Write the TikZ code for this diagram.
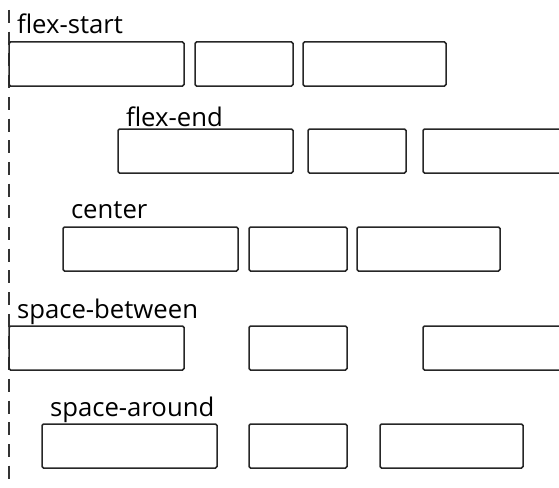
\documentclass[tikz,border=0pt]{standalone}
\usepackage{fontspec}
\setmainfont{Open Sans}
\begin{document}
\begin{tikzpicture}[x=1pt,y=-1pt,
  fbox/.style={draw=black!85, line width=1.5pt, rounded corners=1.5pt, rectangle,
    inner sep=0pt, outer sep=0pt, minimum height=44pt, anchor=north west},
  big/.style={fbox, minimum width=175pt},
  small/.style={fbox, minimum width=98pt},
  mid/.style={fbox, minimum width=143pt},
  lbl/.style={anchor=base west, inner sep=0pt, outer sep=0pt, text=black,
    font=\fontsize{25.7}{30}\selectfont},
  axis/.style={draw=black!80, line width=1.6pt, dash pattern=on 13pt off 8.7pt}]
\useasboundingbox (0,0) rectangle (559,487);
\clip (0,0) rectangle (559,487);
% axis
\coordinate (axtop) at (9,10);
\coordinate (axbot) at (9,487);
\draw[axis] (axtop) -- (axbot);
% row 1: flex-start
\node[lbl] (l1) at (17,34) {flex-start};
\node[big] (a1) at (9,42) {};
\node[small] (b1) at (195,42) {};
\node[mid] (c1) at (303,42) {};
% row 2: flex-end
\node[lbl] (l2) at (126,126) {flex-end};
\node[big] (a2) at (118,129) {};
\node[small] (b2) at (308,129) {};
\node[mid] (c2) at (423,129) {};
% row 3: center
\node[lbl] (l3) at (71,218) {center};
\node[big] (a3) at (63,227) {};
\node[small] (b3) at (249,227) {};
\node[mid] (c3) at (357,227) {};
% row 4: space-between
\node[lbl] (l4) at (17,318) {space-between};
\node[big] (a4) at (9,326) {};
\node[small] (b4) at (249,326) {};
\node[mid] (c4) at (423,326) {};
% row 5: space-around
\node[lbl] (l5) at (50,416) {space-around};
\node[big] (a5) at (42,424) {};
\node[small] (b5) at (249,424) {};
\node[mid] (c5) at (380,424) {};
\end{tikzpicture}
\end{document}
